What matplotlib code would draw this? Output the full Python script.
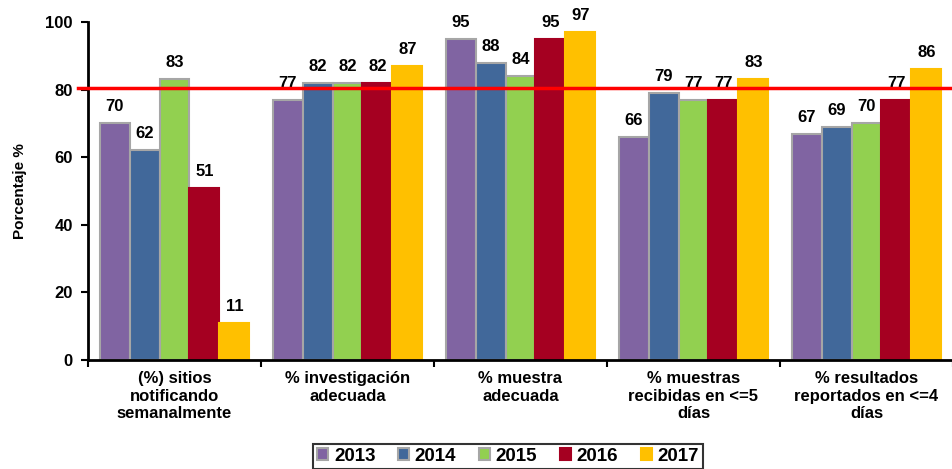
import numpy as np
import matplotlib.pyplot as plt

plt.rcParams['font.family'] = ['Liberation Sans', 'DejaVu Sans']
plt.rcParams['font.weight'] = 'bold'

categories = ["(%) sitios\nnotificando\nsemanalmente",
              "% investigación\nadecuada",
              "% muestra\nadecuada",
              "% muestras\nrecibidas en <=5\ndías",
              "% resultados\nreportados en <=4\ndías"]
years = ["2013", "2014", "2015", "2016", "2017"]
v2013 = [70, 77, 95, 66, 67]
v2014 = [62, 82, 88, 79, 69]
v2015 = [83, 82, 84, 77, 70]
v2016 = [51, 82, 95, 77, 77]
v2017 = [11, 87, 97, 83, 86]
threshold = 80.5

series = [v2013, v2014, v2015, v2016, v2017]
colors = ["#8064A2", "#41689A", "#92D050", "#A50021", "#FFC000"]
edges = ["#A6A6A6", "#A6A6A6", "#A6A6A6", "#A50021", "#FFC000"]

fig = plt.figure(figsize=(9.52, 4.69), dpi=100)
ax = fig.add_axes([88 / 952, 1 - 360 / 469, 865 / 952, 338 / 469])

x = np.arange(len(categories))
w = 0.173
for i, (vals, c, ec, yr) in enumerate(zip(series, colors, edges, years)):
    pos = x + (i - 2) * w
    bars = ax.bar(pos, vals, width=w, color=c, edgecolor=ec, linewidth=1.5, label=yr, zorder=2)
    for b, v in zip(bars, vals):
        ax.annotate(str(v), (b.get_x() + b.get_width() / 2, v), xytext=(0, 6.5),
                    textcoords="offset points", ha="center", va="bottom",
                    fontsize=12, fontweight="bold", zorder=3)

ax.axhline(threshold, xmin=-0.011, xmax=1.0, color="#FF0000", linewidth=2.5,
           clip_on=False, zorder=4)

ax.set_xlim(-0.5, 4.5)
ax.set_ylim(0, 100)
ax.set_yticks(range(0, 101, 20))
ax.set_xticks(np.arange(-0.5, 4.6, 1))
ax.set_xticklabels([])
ax.set_xticks(x, minor=True)
ax.set_xticklabels(categories, minor=True, fontsize=12, fontweight="bold", linespacing=1.2)
ax.tick_params(axis="x", which="minor", length=0, pad=8)
ax.tick_params(axis="x", which="major", length=5, width=1.5)
ax.tick_params(axis="y", length=5, width=1.5, labelsize=12, pad=6)
for lab in ax.get_yticklabels():
    lab.set_fontweight("bold")

for s in ["top", "right"]:
    ax.spines[s].set_visible(False)
for s in ["left", "bottom"]:
    ax.spines[s].set_linewidth(2)

ax.set_ylabel("Porcentaje %", fontsize=11, fontweight="bold", labelpad=13)

leg = fig.legend(loc="upper center", bbox_to_anchor=(508 / 952, 1 - 444 / 469), ncol=5,
                 frameon=True, fancybox=False, edgecolor="black", fontsize=13.5,
                 handlelength=0.6, handleheight=0.6, handletextpad=0.3,
                 columnspacing=1.2, borderpad=0.2, borderaxespad=0)
leg.get_frame().set_linewidth(1.5)
for t in leg.get_texts():
    t.set_fontweight("bold")

fig.savefig("out.png", dpi=100)
